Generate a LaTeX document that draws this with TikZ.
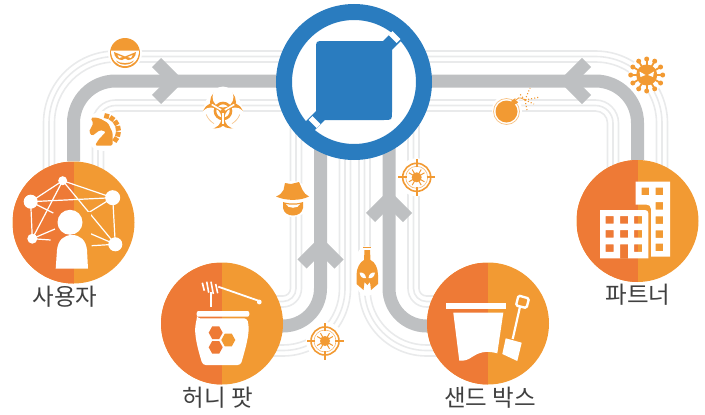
\documentclass[tikz,border=0pt]{standalone}
\usepackage{fontspec}
\newfontfamily\krfont{Noto Sans CJK KR}
\usetikzlibrary{backgrounds, math}
\definecolor{myblue}{RGB}{42, 124, 191}
\definecolor{mygrey}{RGB}{190, 192, 194}
\definecolor{mytrack}{RGB}{233, 234, 235}
\definecolor{myorange}{RGB}{238, 122, 54}
\definecolor{myamber}{RGB}{242, 154, 51}
\definecolor{mytext}{RGB}{64, 64, 64}
\tikzset{
  splitdisc/.style={circle, inner sep=0, minimum size=122pt, fill=myamber,
    path picture={\fill[myorange] (path picture bounding box.south west) rectangle (path picture bounding box.north);}},
  hubdisc/.style={circle, inner sep=0, minimum size=140pt, fill=white, draw=myblue, line width=16pt},
  mainline/.style={draw=mygrey, line width=13pt},
  trackline/.style={draw=mytrack, line width=1.6pt},
  place/.style={font=\krfont\fontsize{23.5}{26}\selectfont, text=mytext, inner sep=0},
  chevron/.pic={\draw[mygrey, line width=13pt, line join=miter] (-18.5,-18.5) -- (0,0) -- (-18.5,18.5);},
  crosshair/.pic={
    \fill[white] (0,0) circle[radius=19];
    \draw[myamber, line width=1.6pt] (0,0) circle[radius=14];
    \draw[myamber!70, line width=0.6pt] (0,0) circle[radius=11];
    \foreach \a in {0,90,180,270}{\draw[myamber, line width=1.8pt] (\a:10) -- (\a:18.5);}
    \foreach \a in {30,60,120,150,210,240,300,330}{\draw[myamber, line width=1pt] (0,0) -- (\a:9);}
    \fill[myamber] (0,0) circle[radius=5];
  }
}

\begin{document}
\begin{tikzpicture}[x=1pt, y=-1pt]
\useasboundingbox (0,0) rectangle (705,415);

\node[hubdisc] (hub) at (354,82) {};
\node[splitdisc] (user) at (73.5,222.5) {};
\node[splitdisc] (honey) at (222,323.5) {};
\node[splitdisc] (sandbox) at (488,323.5) {};
\node[splitdisc] (partner) at (637.5,221) {};

\coordinate (hubL) at (320.5,81);
\coordinate (hubR) at (389,81);
\coordinate (honeyIn) at (222,326);
\coordinate (sandIn) at (488,326);

\begin{scope}[on background layer]
%tracks
\foreach \d in {19,24.5,30}{
  \tikzmath{\Ro=42+\d; \Ri=42-\d; \So=37.5+\d; \Si=37.5-\d;}
  \draw[trackline, rounded corners=\Ro] ([xshift=-\d]user.center) |- ([yshift=\d]hubL);
  \draw[trackline, rounded corners=\Ri] ([xshift=\d]user.center) |- ([yshift=-\d]hubL);
  \draw[trackline, rounded corners=\Ro] ([xshift=\d]partner.center) |- ([yshift=\d]hubR);
  \draw[trackline, rounded corners=\Ri] ([xshift=-\d]partner.center) |- ([yshift=-\d]hubR);
  \draw[trackline, rounded corners=\Si] ([yshift=\d]honeyIn) -| ([xshift=-\d]hubL);
  \draw[trackline, rounded corners=\So] ([yshift=-\d]honeyIn) -| ([xshift=\d]hubL);
  \draw[trackline, rounded corners=\Si] ([yshift=\d]sandIn) -| ([xshift=\d]hubR);
  \draw[trackline, rounded corners=\So] ([yshift=-\d]sandIn) -| ([xshift=-\d]hubR);
}
%main lines
\draw[mainline, rounded corners=42] (user) |- (hubL);
\draw[mainline, rounded corners=42] (partner) |- (hubR);
\draw[mainline, rounded corners=37.5] (honeyIn) -| (hubL);
\draw[mainline, rounded corners=37.5] (sandIn) -| (hubR);
\pic at (175,81) {chevron};
\pic[rotate=180] at (568,81) {chevron};
\pic[rotate=90] at (320.5,245.5) {chevron};
\pic[rotate=90] at (389,199) {chevron};
\end{scope}

%hub square
\draw[myblue, line width=12.7pt] (385,48) -- (407,26);
\draw[myblue, line width=12.7pt] (323,113) -- (301,135);
\draw[white, line width=5.5pt] (390.5,33) -- (398.5,41);
\draw[white, line width=5.5pt] (310.5,118) -- (318.5,126);
\fill[myblue] (324,41) -- (383,41) -- (392,50) -- (392,112) .. controls (392,120) .. (384,120) -- (325,120) -- (316,111) -- (316,49) .. controls (316,41) .. (324,41) -- cycle;

%user icon
\fill[white] (62.7,180.7) circle[radius=4.5] (30.7,201.7) circle[radius=7] (112.7,197.7) circle[radius=7.5] (32.3,238.7) circle[radius=5] (115.3,244.3) circle[radius=7];
\foreach \a/\b/\c/\e in {62.7/180.7/30.7/201.7, 62.7/180.7/112.7/197.7, 30.7/201.7/112.7/197.7, 30.7/201.7/32.3/238.7, 112.7/197.7/115.3/244.3, 62.7/180.7/32.3/238.7, 62.7/180.7/115.3/244.3, 30.7/201.7/53.3/213, 112.7/197.7/88/213, 32.3/238.7/55/229, 32.3/238.7/50.7/240, 115.3/244.3/86/231.7, 115.3/244.3/91.7/245.7}{
  \draw[white, line width=1.2pt] (\a,\b) -- (\c,\e);
}
\fill[myorange] (73.5,212) ++(-17,0) rectangle ++(17,26);
\fill[myamber] (73.5,212) rectangle ++(17,26);
\fill[white] (70,222.3) circle[radius=12.5];
\fill[white] (55.7,268.7) -- (57,250) .. controls (58,240) and (64,235) .. (72,235) .. controls (80,235) and (86,240) .. (87,250) -- (88,268.7) -- cycle;

%honey icon
\draw[white, line width=1.8pt] (218.3,286.7) -- (259.3,301);
\fill[white] (259.3,302) circle[radius=2.4];
\foreach \a/\b/\c/\e in {202.3/282.7/204.3/290.7, 206.7/281.7/208.7/292.7, 211/281.7/213.3/294, 215.7/284/217.7/293.3}{
  \draw[white, line width=1.6pt] (\a,\b) -- (\c,\e);
}
\draw[white, line width=2pt] (211,292) -- (211,306.5);
\fill[white, rounded corners=2] (196.7,311) rectangle (249.3,316.7);
\fill[white, rounded corners=3] (197,318.3) -- (247,318.3) .. controls (250,330) and (248,340) .. (240.7,365) -- (202.7,365) .. controls (195,340) and (194,330) .. (197,318.3) -- cycle;
\foreach \a/\b/\c in {215.7/332.7/myorange, 228.3/340/myamber, 215.7/347.3/myorange}{
  \fill[\c] (\a-7,\b) -- (\a-3.5,\b-6.3) -- (\a+3.5,\b-6.3) -- (\a+7,\b) -- (\a+3.5,\b+6.3) -- (\a-3.5,\b+6.3) -- cycle;
}

%sandbox icon
\fill[white] (446,302.7) rectangle (506,309);
\fill[white] (453.3,312.7) -- (503.3,312.7) -- (497.3,353.3) .. controls (485,350) and (478,353) .. (472,357) .. controls (468,360) and (464,361) .. (459.3,360.7) -- cycle;
\draw[white, line width=2.2pt] (520,306.7) -- (512.7,339);
\fill[white] (505.7,338.3) -- (521.7,342.7) -- (517.3,361) -- (502.3,354) -- cycle;
\draw[white, line width=2.4pt, rounded corners=1.5] (518.5,295.5) -- (529,298.5) -- (526.5,308) -- (516,305.5) -- cycle;

%partner icon
\fill[white, even odd rule] (635.7,181.7) -- (670,181.7) -- (670,256.7) -- (651,256.7) -- (651,209) .. controls (651,206) and (649,204.5) .. (646,204.5) -- (635.7,204.5) -- cycle
  \foreach \a/\b in {641.7/187.7, 655.7/187.7, 655.7/202, 655.7/216.3, 655.7/230.3, 655.7/243.5}{ (\a,\b) rectangle ++(7.5,7.5) };
\fill[white, even odd rule] (600,210) -- (645,210) .. controls (647,210) and (648.3,211.5) .. (648.3,213) -- (648.3,258.3) -- (600,258.3) -- cycle
  \foreach \a/\b in {605.7/216, 620/216, 634/216, 605.7/230, 620/230, 634/230, 605.7/244.3, 634/244.3}{ (\a,\b) rectangle ++(8,7.5) }
  (620,244.3) rectangle (628,258.3);

%villain
\fill[white] (125,53) circle[radius=17];
\fill[myamber] (125,53) circle[radius=15];
\fill[white] (111,50.5) -- (139,50.5) .. controls (139,60) and (133,66) .. (125,66) .. controls (117,66) and (111,60) .. (111,50.5) -- cycle;
\fill[myamber] (114,52) -- (125,56.5) -- (136,52) .. controls (136,57) and (132,60) .. (128,60) -- (125,58.5) -- (122,60) .. controls (118,60) and (114,57) .. (114,52) -- cycle;
\fill[white] (117.5,55) -- (122.5,57) -- (119,58) -- cycle (132.5,55) -- (127.5,57) -- (131,58) -- cycle;
\fill[myamber] (116,60.5) .. controls (120,64) and (130,64) .. (134,60.5) .. controls (131,66) and (119,66) .. (116,60.5) -- cycle;

%knight
\fill[white] (104,131) circle[radius=20];
\fill[myamber, rounded corners=1.5] (94.3,117.3) -- (100,118.5) -- (108,123) -- (112.7,133) -- (112.7,145.5) -- (95,145.5) -- (98.3,140) -- (106,131.7) -- (100,130) -- (92,136) -- (89,131.7) -- (93.3,123.3) -- (90.7,118) -- cycle;
\foreach \a in {-85,-63,-41,-19,3,25}{
  \draw[myamber, line width=5pt] ([shift={(\a:15.5)}]103,131) arc[start angle=\a, end angle=\a+18, radius=15.5];
}

%biohazard
\fill[white] (223,109) circle[radius=19];
\foreach \a in {-90,30,150}{\fill[myamber] ([shift={(\a:9)}]223,111) circle[radius=13];}
\foreach \a in {-90,30,150}{\fill[white] ([shift={(\a:14)}]223,111) circle[radius=10.5];}
\draw[myamber, line width=2.6pt] (223,111) circle[radius=8];
\foreach \a in {-30,90,210}{\draw[white, line width=1.6pt] ([shift={(\a:2)}]223,111) -- ([shift={(\a:13)}]223,111);}
\fill[myamber] (223,111) circle[radius=2];
\foreach \a in {60,120}{\draw[myamber!60, line width=0.6pt] ([shift={(\a:18)}]223,108) arc[start angle=\a, end angle=\a+(\a-90)*1.3, radius=18];}

%bomb
\fill[white] (507,110) circle[radius=15];
\draw[myamber!60, line width=0.7pt] (506.5,111.5) circle[radius=13];
\fill[myamber] (506.5,111.5) circle[radius=11];
\fill[myamber] (511,101) -- (515.5,98) -- (518,102.5) -- (514,105) -- cycle;
\draw[white, line width=3pt] (516,100) .. controls (520,95) and (522,100) .. (528,100);
\draw[myamber, line width=0.8pt] (516,100) .. controls (520,95) and (522,100) .. (527,100);
\foreach \c/\e in {530/88, 540/97, 527/110, 519/93, 534/104}{
  \draw[myamber, dotted, line width=1.1pt] (525,100) -- (\c,\e);
}

%virus
\fill[white] (646.7,75) circle[radius=18];
\foreach \a in {0,30,...,330}{
  \draw[myamber, line width=1.8pt] (646.7,75) -- +(\a:15);
  \fill[myamber] (646.7,75) +(\a:16) circle[radius=2.5];
}
\fill[myamber] (646.7,75) circle[radius=10.5];
\fill[white] (639.5,71.5) -- (645.5,75) -- (640.5,77) -- cycle (654,71.5) -- (648,75) -- (653,77) -- cycle;

%hat man
\fill[white] (292.5,199) circle[radius=18];
\fill[myamber] (276,196.5) .. controls (280,195) and (282,193) .. (283.5,190) -- (285,183) -- (291,184) -- (299,182) -- (302.5,190) .. controls (304,193) and (306,195) .. (309,196.5) .. controls (300,201) and (286,201) .. (276,196.5) -- cycle;
\fill[myamber] (283,202) .. controls (288,204) and (298,204) .. (303,202) -- (303,208) .. controls (302,213) and (298,215.5) .. (293,215.5) .. controls (288,215.5) and (284,213) .. (283,208) -- cycle;
\fill[white] (286,204) .. controls (290,205) and (296,205) .. (300,204) .. controls (299,209) and (287,209) .. (286,204) -- cycle;

%helmet
\fill[white] (367,271) ellipse[x radius=14, y radius=25];
\draw[myamber, line width=1pt] (363,247.3) -- (370.7,247.3);
\fill[myamber] (364.5,250) -- (370,250) -- (370.5,260) .. controls (375,262) and (378,268) .. (378,275) -- (378,284) -- (371,290) -- (370,282) -- (367.3,285) -- (364.5,282) -- (363.5,290) -- (356.5,284) -- (356.5,275) .. controls (356.5,268) and (360,262) .. (364,260) -- cycle;
\fill[white] (359.5,272.5) .. controls (363,272) and (365.5,274) .. (366,278) .. controls (362,279) and (360,276) .. (359.5,272.5) -- cycle;
\fill[white] (375,272.5) .. controls (371.5,272) and (369,274) .. (368.5,278) .. controls (372.5,279) and (374.5,276) .. (375,272.5) -- cycle;

\pic at (325,341) {crosshair};
\pic at (416.7,177.3) {crosshair};

%labels
\node[place] (userlabel) at (65,297) {사용자};
\node[place] (honeylabel) at (218,398) {허니 팟};
\node[place] (sandlabel) at (490,398) {샌드 박스};
\node[place] (partnerlabel) at (638,295) {파트너};

\end{tikzpicture}
\end{document}
